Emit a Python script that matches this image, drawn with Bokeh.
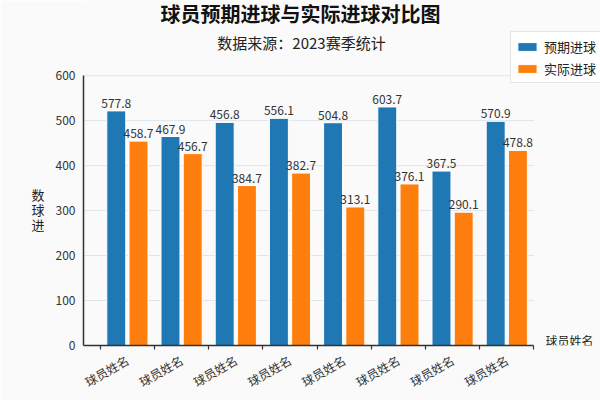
import math
import numpy as np
from bokeh.plotting import figure
from bokeh.models import (ColumnDataSource, Range1d, FixedTicker, Label, Legend, LegendItem)
from bokeh.core.properties import value
from bokeh.embed import file_html
from bokeh.resources import INLINE

# ---- data ----
players = ["球员姓名", "球员姓名", "球员姓名", "球员姓名", "球员姓名", "球员姓名", "球员姓名", "球员姓名"]
expected = [521.6, 464.6, 496.0, 505.0, 495.3, 530.4, 387.8, 498.4]
actual = [454.4, 426.6, 355.6, 383.4, 308.0, 359.2, 296.4, 433.8]
expected_text = ["577.8", "467.9", "456.8", "556.1", "504.8", "603.7", "367.5", "570.9"]
actual_text = ["458.7", "456.7", "384.7", "382.7", "313.1", "376.1", "290.1", "478.8"]
y_ticks = [0, 100, 200, 300, 400, 500, 600]

title_text = "球员预期进球与实际进球对比图"
subtitle_text = "数据来源：2023赛季统计"
series_names = ["预期进球", "实际进球"]
x_title = "球员姓名"
y_title = "数\n球\n进"

BLUE = "#1f77b4"
ORANGE = "#ff7f0e"
CJK = "Noto Sans CJK SC"
BG = "#fafafa"

idx = np.arange(len(players))
centers = idx + 0.5
edges = list(np.arange(len(players) + 1).astype(float))

# ---- layout (page px) ----
W, H = 600, 400
FL, FB = 83, 349            # frame left / bottom (axes sit here)
AX_Y_TOP = 76               # pixel of the top y tick
X0, X1 = -0.31, float(len(players))
px_x = 54.2
px_y = (FB - AX_Y_TOP) / (y_ticks[-1] - y_ticks[0])
x_end = X0 + (W - FL) / px_x
y_end = y_ticks[0] + FB / px_y

src = ColumnDataSource(dict(
    xb=centers - 0.205, xo=centers + 0.205,
    exp=expected, act=actual,
    exp_t=expected_text, act_t=actual_text,
))
grid_src = ColumnDataSource(dict(y=y_ticks[1:], x0=[X0] * (len(y_ticks) - 1), x1=[X1] * (len(y_ticks) - 1)))

p = figure(width=W, height=H, output_backend="svg", toolbar_location=None,
           x_range=Range1d(X0, x_end), y_range=Range1d(y_ticks[0], y_end),
           min_border_left=FL, min_border_right=0, min_border_top=0,
           min_border_bottom=H - FB)
p.background_fill_color = BG
p.border_fill_color = BG
p.outline_line_color = None
p.title.visible = False
p.xgrid.visible = False
p.ygrid.visible = False

p.segment(x0="x0", x1="x1", y0="y", y1="y", source=grid_src, line_color="#dfe5ec", line_width=1, level="underlay")

rb = p.vbar(x="xb", top="exp", width=0.35, source=src, fill_color=BLUE, line_color="white", line_width=1)
ro = p.vbar(x="xo", top="act", width=0.35, source=src, fill_color=ORANGE, line_color="white", line_width=1)

p.text(x="xb", y="exp", text="exp_t", source=src, text_align="center", text_baseline="bottom",
       y_offset=-3, text_font=value(CJK), text_font_size="12px", text_color="#333333")
p.text(x="xo", y="act", text="act_t", source=src, text_align="center", text_baseline="bottom",
       y_offset=-3, text_font=value(CJK), text_font_size="12px", text_color="#333333")

# axes
xa = p.xaxis[0]
xa.bounds = (X0, X1)
xa.ticker = FixedTicker(ticks=list(centers), minor_ticks=edges)
xa.major_label_overrides = {float(c): n for c, n in zip(centers, players)}
xa.major_label_orientation = math.pi / 6
xa.major_tick_out = 0
xa.major_tick_in = 0
xa.minor_tick_out = 4
xa.minor_tick_in = 0
xa.minor_tick_line_color = "#333333"
xa.minor_tick_line_width = 1.2
xa.axis_line_color = "#333333"
xa.axis_line_width = 1.5
xa.major_label_text_font = CJK
xa.major_label_text_font_size = "12px"
xa.major_label_text_color = "#333333"
xa.major_label_standoff = 9

ya = p.yaxis[0]
ya.bounds = (y_ticks[0], y_ticks[-1])
ya.ticker = FixedTicker(ticks=y_ticks)
ya.major_tick_out = 0
ya.major_tick_in = 0
ya.minor_tick_out = 0
ya.minor_tick_in = 0
ya.axis_line_color = "#333333"
ya.axis_line_width = 1.5
ya.major_label_text_font = CJK
ya.major_label_text_font_size = "12px"
ya.major_label_text_color = "#333333"
ya.major_label_standoff = 8
# vertical axis title; the blank lines move it down to the middle of the 0-600 span
ya.axis_label = "\n" * 5 + y_title
ya.axis_label_orientation = "horizontal"
ya.axis_label_standoff = 8
ya.axis_label_text_font = CJK
ya.axis_label_text_font_size = "13px"
ya.axis_label_text_font_style = "normal"
ya.axis_label_text_color = "#222222"
ya.axis_label_text_line_height = 0.77

def sx(px):
    return px - FL
def sy(py):
    return FB - py

p.add_layout(Label(x=sx(300), y=sy(17), x_units="screen", y_units="screen", text=title_text,
                   text_align="center", text_baseline="middle", text_font=CJK,
                   text_font_size="20px", text_font_style="bold", text_color="#111111"))
p.add_layout(Label(x=sx(301), y=sy(45.5), x_units="screen", y_units="screen", text=subtitle_text,
                   text_align="center", text_baseline="middle", text_font=CJK,
                   text_font_size="15px", text_color="#222222"))
p.add_layout(Label(x=sx(545), y=sy(343.5), x_units="screen", y_units="screen", text=x_title,
                   text_align="left", text_baseline="middle", text_font=CJK,
                   text_font_size="12px", text_color="#222222"))

legend = Legend(items=[LegendItem(label=series_names[0], renderers=[rb]),
                       LegendItem(label=series_names[1], renderers=[ro])],
                location=(sx(510), sy(87)), orientation="vertical",
                glyph_width=24, glyph_height=11, label_height=20, spacing=2, padding=4,
                margin=0, label_standoff=5,
                label_text_font=CJK, label_text_font_size="13px", label_text_color="#222222",
                border_line_color="#cccccc", background_fill_color="white", background_fill_alpha=0.85)
p.add_layout(legend, "center")

open("out.html", "w").write(file_html(p, INLINE))
